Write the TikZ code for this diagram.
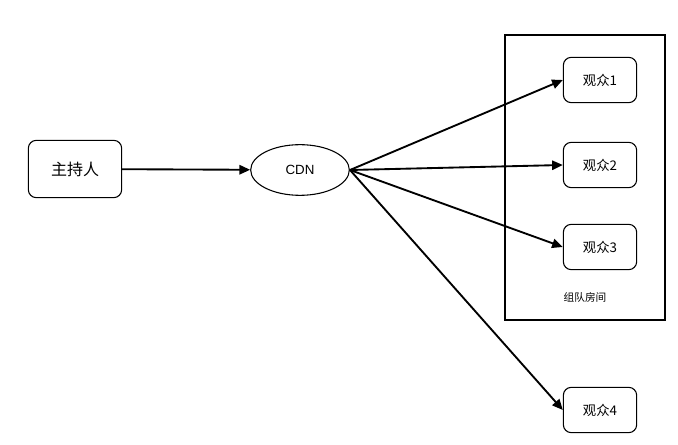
\documentclass[tikz,border=0pt]{standalone}
\usepackage{fontspec}
\setmainfont{Liberation Sans}
\newfontfamily\cjk{Noto Sans CJK SC}
\usetikzlibrary{shapes.geometric,arrows.meta}
\begin{document}
\begin{tikzpicture}[x=0.75pt,y=-0.75pt,
  box/.style={draw,thick,rounded corners=6pt,minimum width=55pt,minimum height=34pt,font=\cjk\normalsize},
  aud/.style={draw,thick,rounded corners=6pt,minimum width=55pt,minimum height=34pt,font=\cjk\normalsize},
  arr/.style={-{Triangle[length=8pt,width=7pt]},line width=1.4pt}]
\useasboundingbox[fill=white] (0,0) rectangle (678,445);
\node[box,minimum width=70pt,minimum height=43pt,font=\cjk\large] (host) at (75,169) {主持人};
\node[draw,thick,ellipse,minimum width=74pt,minimum height=38pt,font=\normalsize] (cdn) at (300,170) {CDN};
\draw[thick] (505,35) rectangle (665,320);
\node[font=\cjk\footnotesize] (room) at (585,297) {组队房间};
\node[aud] (a1) at (600,80) {观众1};
\node[aud] (a2) at (600,165) {观众2};
\node[aud] (a3) at (600,247) {观众3};
\node[aud] (a4) at (600,410) {观众4};
\draw[arr] (host) -- (cdn);
\coordinate (o) at (350,170);
\draw[arr] (o) -- (a1.west);
\draw[arr] (o) -- (a2.west);
\draw[arr] (o) -- (a3.west);
\draw[arr] (o) -- (a4.west);
\end{tikzpicture}
\end{document}
